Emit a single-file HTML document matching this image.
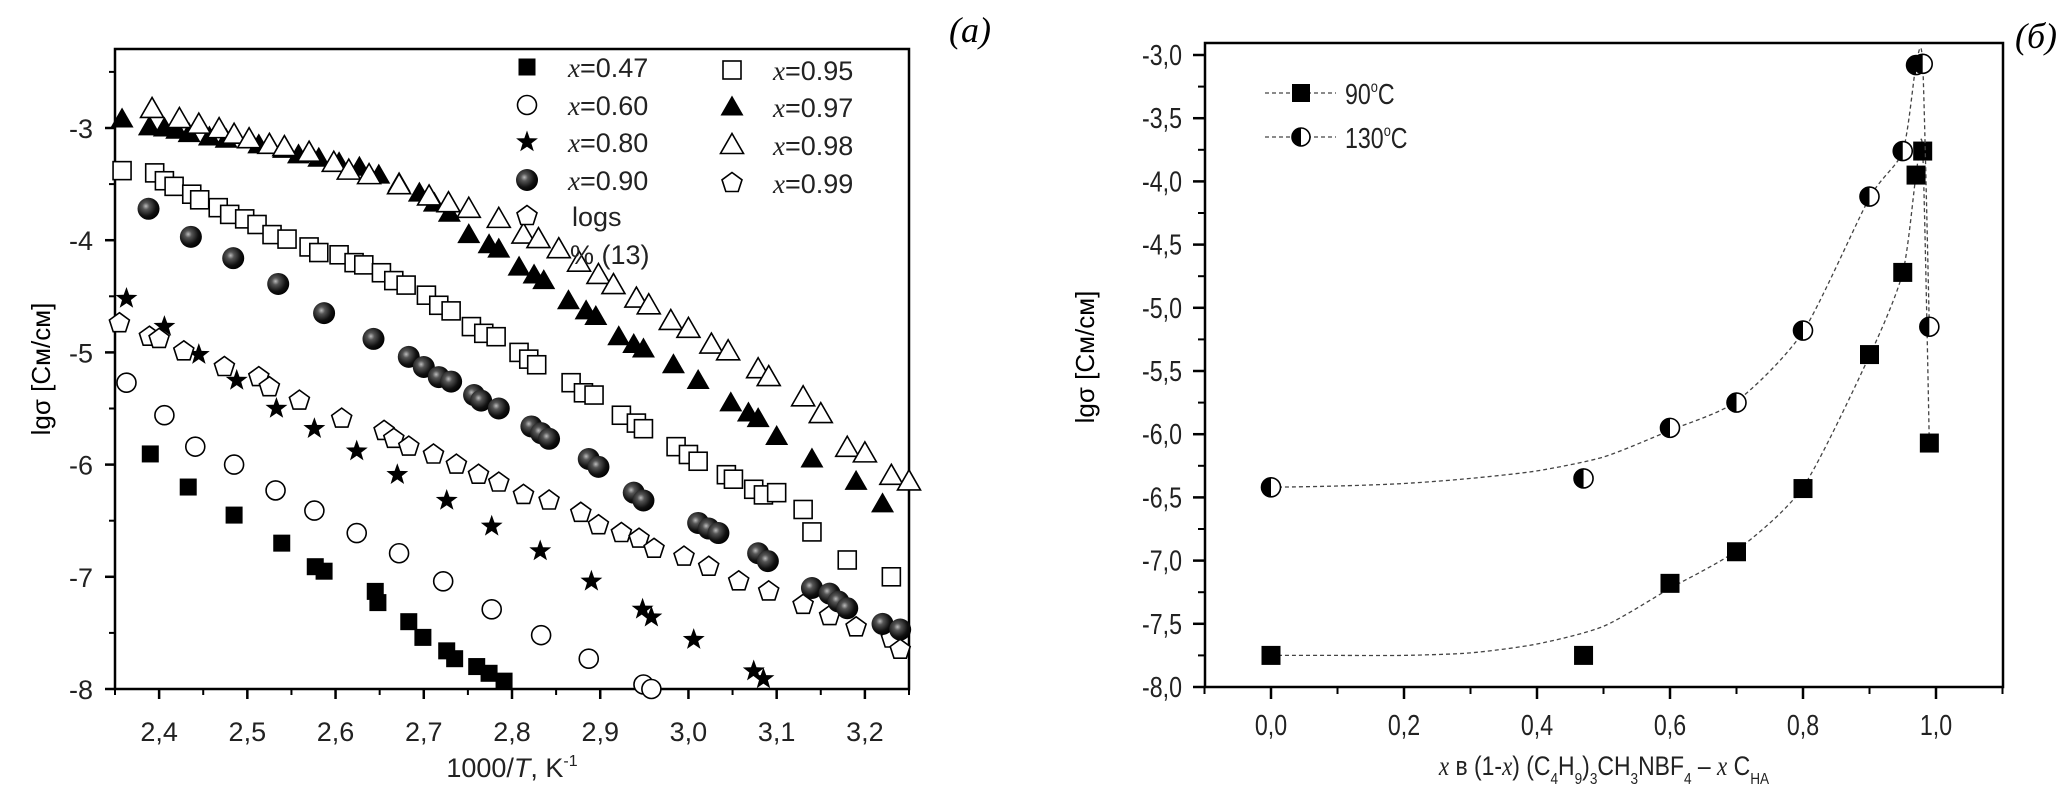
<!DOCTYPE html>
<html><head><meta charset="utf-8"><style>
html,body{margin:0;padding:0;background:#fff;}
svg{display:block;font-family:"Liberation Sans",sans-serif;}
</style></head><body>
<svg id="fig" width="2067" height="801" viewBox="0 0 2067 801">
<defs>
<radialGradient id="ballg" cx="0.38" cy="0.38" r="0.65">
<stop offset="0" stop-color="#bbb"/><stop offset="0.25" stop-color="#555"/><stop offset="0.7" stop-color="#111"/><stop offset="1" stop-color="#000"/>
</radialGradient>
</defs>
<g id="left"></g>
<g id="right"></g>
</svg>
<script>
// ---------- Left chart data ----------
const xs047=[2.390,2.433,2.485,2.539,2.577,2.587,2.645,2.648,2.683,2.699,2.726,2.735,2.760,2.774,2.791];
const ys047=[-5.905,-6.20,-6.45,-6.70,-6.91,-6.95,-7.13,-7.23,-7.40,-7.54,-7.66,-7.73,-7.80,-7.86,-7.93];
const xs060=[2.363,2.406,2.441,2.485,2.532,2.576,2.624,2.672,2.722,2.777,2.833,2.887,2.949,2.958];
const ys060=[-5.27,-5.56,-5.84,-6.00,-6.23,-6.41,-6.61,-6.79,-7.04,-7.29,-7.52,-7.73,-7.96,-8.0];
const xs080=[2.363,2.406,2.445,2.488,2.533,2.576,2.624,2.670,2.726,2.777,2.832,2.890,2.948,2.958,3.006,3.074,3.085];
const ys080=[-4.52,-4.77,-5.02,-5.25,-5.50,-5.68,-5.88,-6.09,-6.32,-6.55,-6.77,-7.04,-7.29,-7.36,-7.56,-7.84,-7.91];
const xs090=[2.388,2.436,2.484,2.535,2.587,2.643,2.683,2.700,2.717,2.731,2.757,2.765,2.785,2.822,2.833,2.842,2.887,2.898,2.938,2.949,3.011,3.023,3.034,3.079,3.090,3.14,3.16,3.17,3.18,3.22,3.24];
const ys090=[-3.72,-3.97,-4.16,-4.39,-4.65,-4.88,-5.04,-5.13,-5.22,-5.26,-5.38,-5.43,-5.50,-5.66,-5.72,-5.77,-5.95,-6.02,-6.25,-6.32,-6.52,-6.57,-6.61,-6.79,-6.86,-7.10,-7.15,-7.22,-7.28,-7.42,-7.47];
const xs095=[2.358,2.395,2.406,2.417,2.437,2.446,2.467,2.480,2.497,2.511,2.528,2.545,2.570,2.581,2.604,2.621,2.632,2.652,2.666,2.680,2.703,2.717,2.731,2.754,2.768,2.782,2.808,2.819,2.828,2.867,2.881,2.893,2.924,2.941,2.949,2.986,3.000,3.011,3.043,3.051,3.074,3.085,3.10,3.13,3.14,3.18,3.23];
const ys095=[-3.38,-3.40,-3.47,-3.52,-3.59,-3.64,-3.71,-3.77,-3.81,-3.86,-3.95,-3.99,-4.06,-4.11,-4.13,-4.20,-4.22,-4.29,-4.36,-4.40,-4.49,-4.58,-4.63,-4.77,-4.83,-4.86,-5.00,-5.06,-5.11,-5.27,-5.36,-5.38,-5.56,-5.63,-5.68,-5.84,-5.91,-5.97,-6.09,-6.13,-6.22,-6.27,-6.25,-6.40,-6.60,-6.85,-7.00];
const xs097=[2.358,2.389,2.406,2.420,2.434,2.457,2.476,2.513,2.541,2.558,2.581,2.604,2.627,2.649,2.672,2.695,2.712,2.729,2.751,2.774,2.785,2.808,2.825,2.836,2.864,2.884,2.895,2.921,2.938,2.949,2.983,3.011,3.048,3.068,3.079,3.10,3.14,3.19,3.22];
const ys097=[-2.92,-2.99,-3.00,-3.02,-3.05,-3.08,-3.10,-3.15,-3.19,-3.24,-3.27,-3.31,-3.35,-3.42,-3.49,-3.58,-3.67,-3.76,-3.95,-4.04,-4.08,-4.24,-4.31,-4.36,-4.54,-4.63,-4.68,-4.86,-4.93,-4.97,-5.11,-5.25,-5.45,-5.54,-5.59,-5.75,-5.95,-6.15,-6.35];
const xs098=[2.392,2.423,2.445,2.468,2.485,2.502,2.525,2.542,2.570,2.598,2.615,2.638,2.672,2.706,2.728,2.751,2.785,2.813,2.830,2.853,2.876,2.898,2.915,2.941,2.955,2.980,3.000,3.026,3.045,3.079,3.091,3.13,3.15,3.18,3.20,3.23,3.25];
const ys098=[-2.83,-2.92,-2.97,-3.01,-3.06,-3.10,-3.15,-3.17,-3.22,-3.31,-3.38,-3.42,-3.51,-3.61,-3.67,-3.72,-3.81,-3.95,-3.99,-4.08,-4.20,-4.31,-4.40,-4.52,-4.58,-4.72,-4.79,-4.93,-4.99,-5.15,-5.22,-5.40,-5.55,-5.85,-5.90,-6.10,-6.15];
const xs099=[2.355,2.389,2.400,2.428,2.474,2.513,2.525,2.559,2.607,2.655,2.666,2.683,2.711,2.737,2.762,2.785,2.813,2.842,2.878,2.898,2.924,2.944,2.961,2.995,3.023,3.057,3.091,3.13,3.16,3.19,3.23,3.24];
const ys099=[-4.74,-4.86,-4.88,-4.99,-5.13,-5.22,-5.31,-5.43,-5.59,-5.70,-5.77,-5.84,-5.91,-6.00,-6.09,-6.16,-6.27,-6.32,-6.43,-6.54,-6.61,-6.66,-6.75,-6.82,-6.91,-7.04,-7.13,-7.25,-7.35,-7.45,-7.55,-7.65];
const leftXTicks=[2.4,2.5,2.6,2.7,2.8,2.9,3.0,3.1,3.2];
const leftXTickLabels=["2,4","2,5","2,6","2,7","2,8","2,9","3,0","3,1","3,2"];
const leftYTicks=[-3,-4,-5,-6,-7,-8];
const leftYTickLabels=["-3","-4","-5","-6","-7","-8"];
// ---------- Right chart data ----------
const rx=[0,0.47,0.6,0.7,0.8,0.9,0.95,0.97,0.98,0.99];
const r90=[-7.75,-7.75,-7.18,-6.93,-6.43,-5.37,-4.72,-3.95,-3.76,-6.07];
const r130=[-6.42,-6.35,-5.95,-5.75,-5.18,-4.12,-3.76,-3.08,-3.07,-5.15];
// fitted dashed curves
const fitX=[0,0.1,0.2,0.3,0.4,0.5,0.6,0.7,0.8,0.9,0.95,0.97,0.98,0.99];
const fit90=[-7.75,-7.75,-7.75,-7.73,-7.66,-7.52,-7.22,-6.92,-6.42,-5.38,-4.72,-3.95,-3.76,-6.07];
const fit130=[-6.42,-6.41,-6.39,-6.35,-6.29,-6.18,-5.97,-5.74,-5.19,-4.13,-3.76,-3.08,-3.07,-5.15];
const rightXTicks=[0,0.2,0.4,0.6,0.8,1.0];
const rightXTickLabels=["0,0","0,2","0,4","0,6","0,8","1,0"];
const rightYTicks=[-3,-3.5,-4,-4.5,-5,-5.5,-6,-6.5,-7,-7.5,-8];
const rightYTickLabels=["-3,0","-3,5","-4,0","-4,5","-5,0","-5,5","-6,0","-6,5","-7,0","-7,5","-8,0"];

const NS="http://www.w3.org/2000/svg";
function mk(parent,tag,attrs,text){const e=document.createElementNS(NS,tag);for(const k in attrs)e.setAttribute(k,attrs[k]);if(text!==undefined)e.textContent=text;parent.appendChild(e);return e;}

// ---- Left axes ----
const L={x0:115,x1:909,y0:49,y1:689,xmin:2.35,xmax:3.25};
const lx=v=>L.x0+(v-L.xmin)/(L.xmax-L.xmin)*(L.x1-L.x0);
const ly=v=>689-(v+8)*112.2;
const left=document.getElementById('left');
let frame=mk(left,'rect',{x:L.x0,y:L.y0,width:L.x1-L.x0,height:L.y1-L.y0,fill:'none',stroke:'#000','stroke-width':2.5});


for(let i=0;i<leftXTicks.length;i++){
  const x=lx(leftXTicks[i]);
  mk(left,'line',{x1:x,y1:L.y1,x2:x,y2:L.y1+10,stroke:'#000','stroke-width':2.5});
  const t=mk(left,'text',{x:x,y:L.y1+52,'font-size':27,'text-anchor':'middle',fill:'#222'},leftXTickLabels[i]);
  
  
  const xm=lx(leftXTicks[i]-0.05);
  if(xm>=L.x0) mk(left,'line',{x1:xm,y1:L.y1,x2:xm,y2:L.y1+6,stroke:'#000','stroke-width':2});
}
mk(left,'line',{x1:lx(3.25),y1:L.y1,x2:lx(3.25),y2:L.y1+6,stroke:'#000','stroke-width':2});
for(let i=0;i<leftYTicks.length;i++){
  const y=ly(leftYTicks[i]);
  mk(left,'line',{x1:L.x0-10,y1:y,x2:L.x0,y2:y,stroke:'#000','stroke-width':2.5});
  const t=mk(left,'text',{x:L.x0-22,y:y+10,'font-size':27,'text-anchor':'end',fill:'#222'},leftYTickLabels[i]);
  
  
  const ym=ly(leftYTicks[i]+0.5);
  if(ym>L.y0) mk(left,'line',{x1:L.x0-6,y1:ym,x2:L.x0,y2:ym,stroke:'#000','stroke-width':2});
}
let tt=mk(left,'text',{x:0,y:0,'font-size':26,'text-anchor':'middle',transform:'translate(50,369) rotate(-90)'},'lgσ [См/см]');


tt=mk(left,'text',{x:512,y:777,'font-size':27,'text-anchor':'middle',fill:'#222'});
tt.innerHTML='1000/<tspan font-style="italic">T</tspan>, K<tspan dy="-11" font-size="16">-1</tspan>';


tt=mk(left,'text',{x:970,y:42,'font-size':36,'text-anchor':'middle','font-family':'Liberation Serif, serif','font-style':'italic'},'(a)');



function marker(g,type,cx,cy){
  const s=8.5;let e;
  if(type==='fsq') e=mk(g,'rect',{x:cx-s,y:cy-s,width:2*s,height:2*s,fill:'#000'});
  else if(type==='osq') e=mk(g,'rect',{x:cx-s-0.5,y:cy-s-0.5,width:2*s+1,height:2*s+1,fill:'#fff',stroke:'#000','stroke-width':1.6});
  else if(type==='ocirc') e=mk(g,'circle',{cx:cx,cy:cy,r:s+1,fill:'#fff',stroke:'#000','stroke-width':1.6});
  else if(type==='ball') e=mk(g,'circle',{cx:cx,cy:cy,r:s+2.5,fill:'url(#ballg)'});
  else if(type==='ftri') e=mk(g,'polygon',{points:`${cx},${cy-s-3} ${cx+s+3},${cy+s} ${cx-s-3},${cy+s}`,fill:'#000'});
  else if(type==='otri') e=mk(g,'polygon',{points:`${cx},${cy-s-3} ${cx+s+3},${cy+s} ${cx-s-3},${cy+s}`,fill:'#fff',stroke:'#000','stroke-width':1.6});
  else if(type==='star'){let pts=[];for(let k=0;k<10;k++){const r=k%2?s*0.55:s+3;const a=-Math.PI/2+k*Math.PI/5;pts.push((cx+r*Math.cos(a)).toFixed(1)+','+(cy+r*Math.sin(a)).toFixed(1));}
      e=mk(g,'polygon',{points:pts.join(' '),fill:'#000'});}
  else {let pts=[];for(let k=0;k<5;k++){const a=-Math.PI/2+k*2*Math.PI/5;pts.push((cx+(s+2)*Math.cos(a)).toFixed(1)+','+(cy+(s+2)*Math.sin(a)).toFixed(1));}
      e=mk(g,'polygon',{points:pts.join(' '),fill:'#fff',stroke:'#000','stroke-width':1.6});}
  return e;
}
const seriesL=[
 ['series-x047','fsq',xs047,ys047],['series-x060','ocirc',xs060,ys060],['series-x080','star',xs080,ys080],
 ['series-x099','opent',xs099,ys099],['series-x090','ball',xs090,ys090],['series-x095','osq',xs095,ys095],
 ['series-x097','ftri',xs097,ys097],['series-x098','otri',xs098,ys098]];
for(const [nm,tp,X,Y] of seriesL){
  const g=mk(left,'g',{});
  
  
  for(let i=0;i<X.length;i++){const p=marker(g,tp,lx(X[i]),ly(Y[i]));
    
    }
}
const legL=[[527,67,'fsq','0.47'],[527,105,'ocirc','0.60'],[527,142,'star','0.80'],[527,180,'ball','0.90'],
 [732,70,'osq','0.95'],[732,107,'ftri','0.97'],[732,145,'otri','0.98'],[732,183,'opent','0.99']];
for(const [x,y,tp,lab] of legL){
  const g=mk(left,'g',{});
  
  
  marker(g,tp,x,y);
  const t=mk(g,'text',{x:x+41,y:y+10,'font-size':27,fill:'#222'});
  t.innerHTML='<tspan font-family="Liberation Serif, serif" font-style="italic">x</tspan>=' + lab;
}
const lg=mk(left,'g',{});


marker(lg,'opent',527,216);
mk(lg,'text',{x:572,y:226,'font-size':27,fill:'#222'},'logs');
mk(lg,'text',{x:570,y:264,'font-size':27,fill:'#222'},'% (13)');

// ---- Right axes ----
const R={x0:1205,x1:2003,y0:43,y1:687};
const rxs=v=>1271+v*665;
const rys=v=>55-(v+3)*126.4;
const right=document.getElementById('right');
frame=mk(right,'rect',{x:R.x0,y:R.y0,width:R.x1-R.x0,height:R.y1-R.y0,fill:'none',stroke:'#000','stroke-width':2.5});


for(let i=0;i<rightXTicks.length;i++){
  const x=rxs(rightXTicks[i]);
  mk(right,'line',{x1:x,y1:R.y1,x2:x,y2:R.y1+12,stroke:'#000','stroke-width':2.5});
  const t=mk(right,'text',{x:x,y:R.y1+48,'font-size':29,'text-anchor':'middle',fill:'#222',transform:`translate(${x},0) scale(0.8,1) translate(${-x},0)`},rightXTickLabels[i]);
  
  
  const xm=rxs(rightXTicks[i]+0.1);
  if(xm<R.x1) mk(right,'line',{x1:xm,y1:R.y1,x2:xm,y2:R.y1+7,stroke:'#000','stroke-width':2});
}
mk(right,'line',{x1:rxs(-0.1),y1:R.y1,x2:rxs(-0.1),y2:R.y1+7,stroke:'#000','stroke-width':2});
for(let i=0;i<rightYTicks.length;i++){
  const y=rys(rightYTicks[i]);
  mk(right,'line',{x1:R.x0-12,y1:y,x2:R.x0,y2:y,stroke:'#000','stroke-width':2.5});
  const t=mk(right,'text',{x:1182,y:y+10,'font-size':29,'text-anchor':'end',fill:'#222',transform:`translate(1182,0) scale(0.8,1) translate(-1182,0)`},rightYTickLabels[i]);
  
  
  if(i<rightYTicks.length-1){const ym=rys(rightYTicks[i]-0.25);mk(right,'line',{x1:R.x0-7,y1:ym,x2:R.x0,y2:ym,stroke:'#000','stroke-width':2});}
}
tt=mk(right,'text',{x:0,y:0,'font-size':26,'text-anchor':'middle',transform:'translate(1094,357) rotate(-90)'},'lgσ [См/см]');


tt=mk(right,'text',{x:1604,y:775,'font-size':27,'text-anchor':'middle',fill:'#222',transform:'translate(1604,0) scale(0.85,1) translate(-1604,0)'});
tt.innerHTML='<tspan font-family="Liberation Serif, serif" font-style="italic">x</tspan> в (1-<tspan font-family="Liberation Serif, serif" font-style="italic">x</tspan>) (C<tspan dy="9" font-size="16">4</tspan><tspan dy="-9">H</tspan><tspan dy="9" font-size="16">9</tspan><tspan dy="-9">)</tspan><tspan dy="9" font-size="16">3</tspan><tspan dy="-9">CH</tspan><tspan dy="9" font-size="16">3</tspan><tspan dy="-9">NBF</tspan><tspan dy="9" font-size="16">4</tspan><tspan dy="-9"> – </tspan><tspan font-family="Liberation Serif, serif" font-style="italic">x</tspan> C<tspan dy="9" font-size="16">HA</tspan>';


tt=mk(right,'text',{x:2036,y:48,'font-size':36,'text-anchor':'middle','font-family':'Liberation Serif, serif','font-style':'italic'},'(б)');



function smoothPath(X,Y){
  const P=X.map((v,i)=>[rxs(v),rys(Y[i])]);
  let d=`M${P[0][0]},${P[0][1]}`;
  for(let i=0;i<P.length-1;i++){
    const p0=P[Math.max(0,i-1)],p1=P[i],p2=P[i+1],p3=P[Math.min(P.length-1,i+2)];
    const t=0.12;
    const c1=[p1[0]+(p2[0]-p0[0])*t,p1[1]+(p2[1]-p0[1])*t];
    const c2=[p2[0]-(p3[0]-p1[0])*t,p2[1]-(p3[1]-p1[1])*t];
    d+=` C${c1[0].toFixed(1)},${c1[1].toFixed(1)} ${c2[0].toFixed(1)},${c2[1].toFixed(1)} ${p2[0].toFixed(1)},${p2[1].toFixed(1)}`;
  }
  return d;
}
function halfCircle(g,cx,cy,r){
  mk(g,'circle',{cx:cx,cy:cy,r:r,fill:'#fff',stroke:'#000','stroke-width':1.6});
  mk(g,'path',{d:`M${cx},${cy-r} A${r},${r} 0 0 0 ${cx},${cy+r} Z`,fill:'#000'});
}
let g90=mk(right,'g',{});


mk(g90,'path',{d:smoothPath(fitX,fit90),fill:'none',stroke:'#444','stroke-width':1.3,'stroke-dasharray':'4,3'});
for(let i=0;i<rx.length;i++){const p=mk(g90,'rect',{x:rxs(rx[i])-9.5,y:rys(r90[i])-9.5,width:19,height:19,fill:'#000'});
  
  }
let g130=mk(right,'g',{});


mk(g130,'path',{d:smoothPath(fitX,fit130),fill:'none',stroke:'#444','stroke-width':1.3,'stroke-dasharray':'4,3'});
for(let i=0;i<rx.length;i++){const p=mk(g130,'g',{});
  
  
  halfCircle(p,rxs(rx[i]),rys(r130[i]),9.5);}
let le=mk(right,'g',{});


mk(le,'line',{x1:1265,y1:93,x2:1336,y2:93,stroke:'#444','stroke-width':1.3,'stroke-dasharray':'4,3'});
mk(le,'rect',{x:1292,y:84,width:18,height:18,fill:'#000'});
tt=mk(le,'text',{x:1345,y:104,'font-size':29,fill:'#222',transform:'translate(1345,0) scale(0.8,1) translate(-1345,0)'});
tt.innerHTML='90<tspan dy="-12" font-size="16">o</tspan><tspan dy="12">C</tspan>';
le=mk(right,'g',{});


mk(le,'line',{x1:1265,y1:137,x2:1336,y2:137,stroke:'#444','stroke-width':1.3,'stroke-dasharray':'4,3'});
halfCircle(le,1301,137,9);
tt=mk(le,'text',{x:1345,y:148,'font-size':29,fill:'#222',transform:'translate(1345,0) scale(0.8,1) translate(-1345,0)'});
tt.innerHTML='130<tspan dy="-12" font-size="16">o</tspan><tspan dy="12">C</tspan>';
</script>
</body></html>
